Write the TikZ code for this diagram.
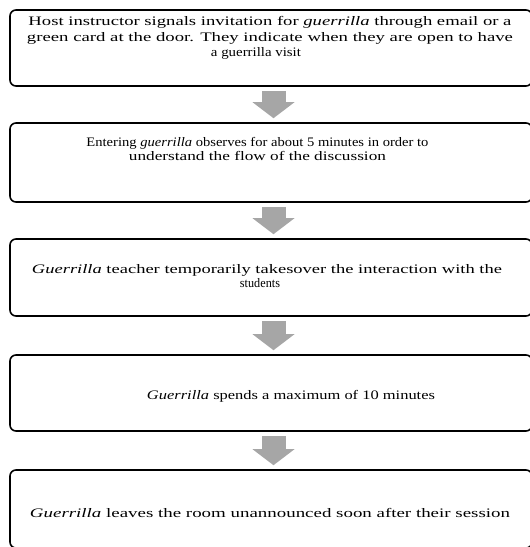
\documentclass[tikz,border=0pt]{standalone}
\usepackage{graphicx}
\usepackage{fontspec}
\setmainfont{Liberation Serif}
\usetikzlibrary{arrows.meta}
\definecolor{arrowgray}{RGB}{166,166,166}
% one line of a step, set to the width it has in the flow chart
\newcommand{\fitline}[2]{\resizebox{#1}{\height}{#2}}

\begin{document}
\begin{tikzpicture}[x=1pt, y=-1pt,
  stepbox/.style={draw=black, line width=1.6pt, rounded corners=6pt,
    minimum width=522pt, minimum height=77pt, inner sep=0pt},
  steptext/.style={align=center, inner sep=0pt,
    font=\fontsize{13}{15.5}\selectfont},
  flow/.style={draw=arrowgray, line width=24pt,
    -{Triangle[width=42pt, length=16pt, line width=0pt]},
    shorten <=4pt, shorten >=4pt}]
\useasboundingbox (0,0) rectangle (530,547);
\clip (0,0) rectangle (530,547);
% steps
\node[stepbox, minimum height=76pt] (s1) at (271,48) {};
\node[stepbox, minimum height=79pt] (s2) at (271,162.5) {};
\node[stepbox] (s3) at (271,277.5) {};
\node[stepbox, minimum height=76pt] (s4) at (271,393) {};
\node[stepbox, minimum height=78pt] (s5) at (271,509) {};
% texts
\node[steptext] (t1) at (270,38) {%
  \fitline{483pt}{Host instructor signals invitation for \textit{guerrilla} through email or a}\\
  \fitline{486pt}{green card at the door. They indicate when they are open to have}\\
  \fitline{90pt}{a guerrilla visit}\hspace*{28pt}};
\node[steptext, font=\fontsize{13}{14.5}\selectfont] (t2) at (257.5,149) {%
  \fitline{342pt}{Entering \textit{guerrilla} observes for about 5 minutes in order to}\\
  \fitline{257pt}{understand the flow of the discussion}};
\node[steptext, font=\fontsize{13}{14}\selectfont] (t3) at (267,276.5) {%
  \fitline{470pt}{\textit{Guerrilla} teacher temporarily takesover the interaction with the}\\
  \fitline{40pt}{students}\hspace*{14pt}};
\node[steptext] (t4) at (291,396.5) {%
  \fitline{288pt}{\textit{Guerrilla} spends a maximum of 10 minutes}};
\node[steptext] (t5) at (270,513) {%
  \fitline{480pt}{\textit{Guerrilla} leaves the room unannounced soon after their session}};
% arrows
\draw[flow] ([xshift=2.5pt]s1.south) -- ([xshift=2.5pt]s2.north);
\draw[flow] ([xshift=2.5pt]s2.south) -- ([xshift=2.5pt]s3.north);
\draw[flow] ([xshift=2.5pt]s3.south) -- ([xshift=2.5pt]s4.north);
\draw[flow] ([xshift=2.5pt]s4.south) -- ([xshift=2.5pt]s5.north);
\end{tikzpicture}
\end{document}
